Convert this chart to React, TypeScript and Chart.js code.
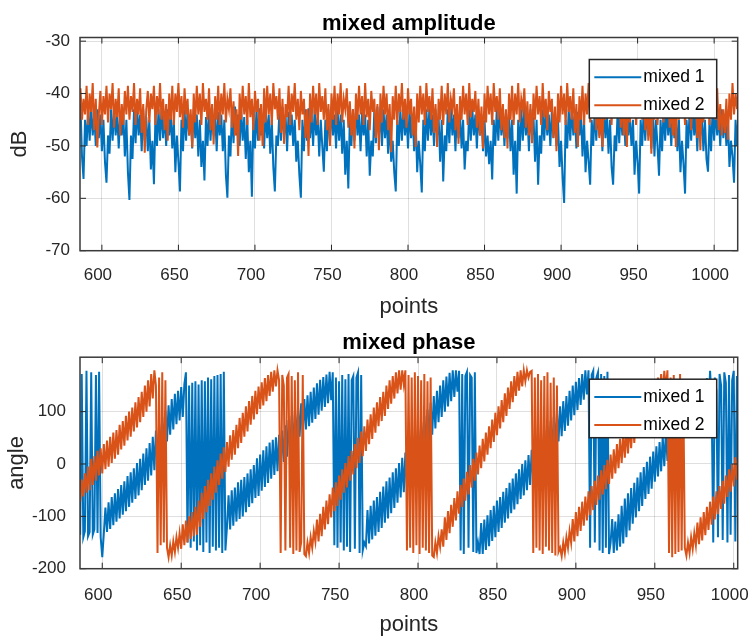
import React, { useEffect, useRef } from "react";
import { Chart, registerables } from "chart.js";

Chart.register(...registerables);

// ---------------- data ----------------
const SERIES_LABELS = ["mixed 1", "mixed 2"];
const X_TICKS = [600, 650, 700, 750, 800, 850, 900, 950, 1000];
const AMP_Y_TICKS = [-70, -60, -50, -40, -30];
const PHASE_Y_TICKS = [-200, -100, 0, 100];

const AMP_START = 586; // x of first amplitude sample
const PHASE_START = 586; // x of first phase sample

// amplitude (dB), mixed 1, x = 586 .. 1016
const AMP_MIXED1 = [
  -42, -52, -56.3, -45, -50, -43, -49, -42.5, -48, -44, // 586
  -50, -43, -48.5, -44, -51, -45, -53, -57, -48, -51.5, // 596
  -43, -49, -42.8, -48, -44, -50.5, -43.5, -48, -44, -52, // 606
  -45, -55, -60.3, -48, -52.5, -43, -49.5, -42.5, -48, -44, // 616
  -51, -43, -49, -44.5, -51, -45, -54.5, -49, -57.3, -44, // 626
  -50, -43, -49, -42.6, -48.5, -44, -50, -43, -48, -44, // 636
  -50.5, -45, -55, -48, -53, -58.7, -45, -51, -43, -49, // 646
  -42.8, -48, -44, -50.5, -43, -48.5, -44, -52, -45, -54, // 656
  -49, -56.6, -44.5, -50, -43, -49, -42.7, -48, -44, -51, // 666
  -43.5, -48, -44, -51, -45, -55.5, -59.9, -48, -52, -43, // 676
  -49.5, -42.5, -48, -44, -50, -43, -49, -44.5, -52.5, -45, // 686
  -55, -49, -59.7, -44, -50.5, -43, -49, -42.8, -48, -44, // 696
  -50.5, -43, -48.5, -44, -51.5, -45, -54, -58.7, -48, -50, // 706
  -43, -49, -42.6, -48, -44, -51, -43.5, -48, -44, -50, // 716
  -45, -53, -49, -55.5, -59.9, -45, -51, -43, -49, -42.8, // 726
  -48.5, -44, -50, -43, -48, -44.5, -52, -45, -50, -54.9, // 736
  -45, -51, -43, -49, -42.5, -48, -44, -50.5, -43, -49, // 746
  -44, -51.5, -45, -55.5, -49, -58.1, -44.5, -50, -43, -49, // 756
  -42.7, -48, -44, -51, -43.5, -48, -44, -52, -45, -55.7, // 766
  -49, -52, -43, -49.5, -42.5, -48, -44, -50, -43, -48.5, // 776
  -44, -51.5, -45, -53, -49, -55, -58.7, -45, -50, -43, // 786
  -49, -42.8, -48, -44, -50.5, -43, -48.5, -44, -51, -45, // 796
  -55, -49, -53.5, -58.9, -45, -51, -43, -49, -42.6, -48, // 806
  -44, -50, -43, -48, -44.5, -53, -45, -56.8, -48, -51, // 816
  -43, -49.5, -42.5, -48, -44, -51, -43, -48.5, -44, -50.5, // 826
  -45, -54.5, -49, -51, -43, -49, -42.8, -48, -44, -50.5, // 836
  -43, -48, -44, -51, -45, -52, -48, -53.5, -49, -56.4, // 846
  -45, -50, -43, -49, -42.7, -48, -44, -50, -43.5, -48.5, // 856
  -44, -51, -45, -55.5, -49, -59.1, -45, -51, -43, -49, // 866
  -42.5, -48, -44, -51, -43, -48, -44.5, -53, -45, -57.4, // 876
  -48, -51.5, -43, -49, -42.8, -48, -44, -50, -43, -48.5, // 886
  -44, -50, -45, -54, -49, -56, -60.9, -45, -50.5, -43, // 896
  -49, -42.6, -48, -44, -50.5, -43.5, -48, -44, -52, -45, // 906
  -55, -49, -53, -57.4, -45, -50, -43, -49, -42.5, -48, // 916
  -44, -51, -43, -48.5, -44, -51.5, -45, -54, -57.4, -48, // 926
  -51, -43, -49.5, -42.7, -48, -44, -50, -43, -48, -44.5, // 936
  -50, -45, -55.5, -49, -53, -59.1, -45, -50, -43, -49, // 946
  -42.8, -48, -44, -50.5, -43, -52, -45, -50, -55.7, -45, // 956
  -51, -43, -49, -42.6, -48, -44, -50, -43.5, -48.5, -44, // 966
  -51, -45, -55, -49, -53.5, -59.1, -45, -50.5, -43, -49, // 976
  -42.5, -48, -44, -51, -43, -48, -44.5, -51, -45, -52.5, // 986
  -54.9, -45, -51, -43, -49, -42.8, -48, -44, -50, -43, // 996
  -48.5, -44, -50, -45, -54, -49, -52, -57, -45, -50, // 1006
  -43, // 1016
];

// amplitude (dB), mixed 2, x = 586 .. 1016
const AMP_MIXED2 = [
  -39, -45, -41, -44, -38.5, -46, -40, -43.5, -38, -47, // 586
  -41, -50.3, -44, -39.5, -46, -40.5, -44, -38.5, -45.5, -40, // 596
  -43, -38, -46.5, -41, -44.5, -39, -48, -42, -46, -39.5, // 606
  -44, -38.5, -45, -40.5, -43.5, -38, -46, -41, -44, -39, // 616
  -47.5, -42, -51.3, -43, -39.5, -45.5, -40, -43, -38.5, -46, // 626
  -40.5, -44, -38, -45, -41, -47, -42, -49, -40, -45, // 636
  -38.5, -46, -40, -43.5, -38, -44.5, -40.5, -46.5, -39, -44, // 646
  -41, -48, -43, -50.3, -40, -45.5, -38.5, -44, -40, -46, // 656
  -38, -43.5, -41, -45, -39, -47, -42, -49.7, -40.5, -45, // 666
  -38.5, -46, -40, -44, -38, -45.5, -41, -43, -39, -46.5, // 676
  -41.5, -48, -43, -51.9, -40, -45, -38.5, -44, -40.5, -46, // 686
  -38, -44.5, -41, -47, -39.5, -43.5, -41, -49, -42, -50, // 696
  -39, -45.5, -38.5, -44, -40, -46, -38, -43, -40.5, -45, // 706
  -39, -47.5, -41, -49.6, -42, -44.5, -38.5, -46, -40, -43.5, // 716
  -38, -45, -41, -47, -39.5, -44, -41, -48.5, -43, -51.9, // 726
  -40, -45.5, -38.5, -44, -40, -46, -38, -43.5, -40.5, -45, // 736
  -39, -47, -42, -50, -40, -45, -38.5, -46, -40, -44, // 746
  -38, -45.5, -41, -43, -39, -46.5, -41.5, -48, -43, -50.5, // 756
  -40, -45, -38.5, -44, -40.5, -46, -38, -44.5, -41, -47, // 766
  -39.5, -43.5, -41, -48.5, -42, -50.8, -40, -45.5, -38.5, -44, // 776
  -40, -47, -42, -51.2, -40.5, -45, -38.5, -46, -40, -43.5, // 786
  -38, -45, -41, -46.5, -39, -44, -41, -48, -42.5, -50.2, // 796
  -40, -45.5, -38.5, -44, -40, -46, -38, -43.5, -40.5, -45, // 806
  -39, -47.5, -42, -50.2, -41, -45, -38.5, -46, -40, -44, // 816
  -38, -45.5, -41, -43, -39, -47, -42, -49.6, -40.5, -45, // 826
  -38.5, -44, -40, -46, -38, -44.5, -41, -43.5, -39.5, -46.5, // 836
  -41, -48, -42.5, -50.5, -40, -45.5, -38.5, -44, -40, -46, // 846
  -38, -43.5, -40.5, -45, -39, -47, -42, -48.5, -43, -50.5, // 856
  -40, -45, -38.5, -46, -40, -44, -38, -45.5, -41, -43, // 866
  -39, -46.5, -41.5, -48, -42, -49.5, -40, -45, -38.5, -44, // 876
  -40.5, -46, -38, -44.5, -41, -47, -39.5, -43.5, -41, -48.5, // 886
  -42.5, -51, -40, -45.5, -38.5, -44, -40, -46, -38, -43.5, // 896
  -40.5, -45, -39, -47.5, -42, -50.2, -40.5, -45, -38.5, -46, // 906
  -40, -44, -38, -45.5, -41, -43, -39, -47, -42, -48.5, // 916
  -43, -50.2, -40, -45, -38.5, -44, -40, -46, -38, -44.5, // 926
  -41, -43.5, -39.5, -46.5, -41, -48, -42.5, -50.2, -40, -45.5, // 936
  -38.5, -44, -40.5, -46, -38, -43.5, -40.5, -45, -39, -47, // 946
  -42, -49, -43, -51.5, -40, -45, -38.5, -46, -40, -44, // 956
  -38, -45.5, -41, -43, -39, -46.5, -41.5, -48, -42, -50.2, // 966
  -40, -45, -38.5, -44, -40.5, -46, -38, -44.5, -41, -47, // 976
  -39.5, -43.5, -41, -48.5, -42.5, -50.8, -40, -45.5, -38.5, -44, // 986
  -40, -46, -38, -43.5, -40.5, -45, -39, -47, -42, -48, // 996
  -43, -47.5, -41, -48.8, -40, -45, -38, -44, -40, -43, // 1006
  -39, // 1016
];

// phase (degrees), mixed 1, x = 586 .. 1002
const PHASE_MIXED1 = [
  -135, 172, -140, -128, 178, -138, -130, 175, -135, -125, // 586
  170, -132, 176, -140, -178, -132, -83, -130, -73, -124, // 596
  -63, -117, -56, -110, -48, -104, -40, -97, -33, -90, // 606
  -23, -82, -16, -74, -8, -67, 2, -60, 10, -50, // 616
  20, -40, 30, -32, 40, -22, 52, -12, 64, 0, // 626
  77, 13, 90, 28, 102, 43, 112, 56, 124, 66, // 636
  134, 76, 140, 83, 147, 90, 152, 175, -150, 150, // 646
  -160, 155, -148, 158, -165, 152, -155, 160, -168, 158, // 656
  -150, 165, -170, 162, -158, 168, -165, 170, -160, 172, // 666
  -170, 176, -165, -120, -60, -125, -50, -118, -45, -110, // 676
  -35, -105, -30, -100, -25, -92, -18, -82, -10, -75, // 686
  -2, -65, 11, -61, 18, -51, 26, -44, 34, -36, // 696
  41, -28, 46, -21, 51, -14, 56, -6, 64, 4, // 706
  74, 14, 84, 24, 92, 34, 101, 44, 108, 52, // 716
  116, 59, 124, 66, 131, 72, 138, 79, 146, 86, // 726
  154, 94, 161, 102, 166, 109, 171, 116, 176, 122, // 736
  175, -155, 165, -160, 158, -150, 170, -165, 162, -158, // 746
  172, -168, 160, 168, -162, 165, 175, -170, 170, -165, // 756
  -150, -157, -88, -152, -80, -144, -70, -137, -63, -130, // 766
  -53, -122, -43, -112, -33, -104, -26, -94, -16, -84, // 776
  -8, -74, 2, -64, 12, -54, 22, -44, 32, -34, // 786
  42, -22, 54, -10, 67, 3, 80, 16, 92, 30, // 796
  104, 43, 117, 56, 130, 68, 140, 80, 150, 90, // 806
  160, 100, 167, 110, 174, 120, 179, 128, 179, 138, // 816
  178, -165, 172, -172, 168, 176, -160, 170, 165, -168, // 826
  175, -170, -150, -172, -113, -172, -106, -164, -98, -157, // 836
  -88, -147, -80, -140, -70, -130, -63, -122, -53, -112, // 846
  -46, -104, -36, -94, -28, -87, -18, -77, -10, -67, // 856
  0, -60, 7, -50, 17, -40, 27, -32, 37, -22, // 866
  47, -12, 54, -2, 64, 6, 72, 16, 82, 26, // 876
  90, 36, 100, 43, 110, 53, 120, 63, 130, 73, // 886
  140, 83, 150, 93, 157, 103, 164, 113, 172, 123, // 896
  179, 133, 179, -160, 170, 178, -150, 165, 175, -165, // 906
  172, -170, 168, -160, 176, -172, -150, -105, -170, -110, // 916
  -165, -96, -158, -80, -152, -66, -140, -56, -127, -46, // 926
  -114, -36, -102, -26, -90, -16, -80, -6, -67, 4, // 936
  -57, 14, -47, 24, -34, 34, -24, 42, -14, 52, // 946
  -4, 62, 6, 70, 16, 80, 26, 88, 33, 97, // 956
  40, 104, 48, 112, 54, 120, 60, 127, 68, 134, // 966
  74, 142, 80, 150, 88, 157, 96, 164, 103, 178, // 976
  120, -150, 165, 140, -140, 172, 150, -145, 175, 155, // 986
  -150, 170, -135, 160, 178, -148, 168, // 996
];

// phase (degrees), mixed 2, x = 586 .. 1002
const PHASE_MIXED2 = [
  -72, -30, -62, -18, -55, -5, -50, 10, -40, 15, // 586
  -32, 25, -22, 30, -18, 38, -10, 45, -5, 52, // 596
  2, 60, 10, 65, 18, 75, 28, 82, 35, 92, // 606
  45, 100, 52, 108, 62, 118, 70, 128, 80, 138, // 616
  90, 150, 100, 160, 110, 172, 125, 179, 150, -170, // 626
  165, -155, 175, -150, 160, -160, -178, -155, -175, -148, // 636
  -168, -140, -160, -132, -162, -115, -155, -108, -150, -100, // 646
  -143, -92, -138, -82, -135, -70, -120, -55, -105, -42, // 656
  -92, -30, -80, -18, -68, -5, -55, 7, -40, 20, // 666
  -28, 32, -15, 42, -5, 55, 8, 65, 18, 75, // 676
  30, 88, 40, 98, 52, 110, 62, 120, 75, 130, // 686
  85, 140, 95, 148, 105, 156, 112, 164, 120, 170, // 696
  130, 176, 138, 179, 148, 179, 160, -170, 170, 150, // 706
  -165, 165, 172, -160, 168, -172, 160, -165, 175, -168, // 716
  -150, 170, -172, -176, -150, -170, -140, -160, -128, -148, // 726
  -106, -148, -95, -138, -82, -125, -70, -115, -58, -102, // 736
  -45, -90, -35, -80, -22, -68, -10, -55, 2, -45, // 746
  15, -32, 25, -20, 38, -8, 50, 2, 62, 15, // 756
  72, 25, 85, 38, 95, 48, 108, 60, 118, 72, // 766
  128, 82, 138, 92, 150, 105, 160, 115, 168, 125, // 776
  175, 135, 179, 142, 179, 152, 179, -165, 170, -160, // 786
  165, -170, 175, -155, 168, -172, 160, -160, 172, -165, // 796
  158, -170, 165, -175, -178, -150, -170, -138, -158, -125, // 806
  -158, -102, -145, -90, -132, -78, -120, -65, -108, -52, // 816
  -95, -40, -82, -28, -70, -15, -58, -2, -45, 10, // 826
  -32, 22, -20, 35, -8, 48, 5, 60, 18, 72, // 836
  30, 85, 42, 98, 55, 110, 68, 122, 80, 135, // 846
  92, 146, 105, 158, 118, 168, 130, 176, 140, 179, // 856
  148, 179, 158, 179, 165, 176, 178, -170, 165, -160, // 866
  172, -165, 160, -172, 168, -158, 175, -165, 155, -170, // 876
  165, -175, 150, -168, -160, -176, -150, -170, -140, -160, // 886
  -128, -150, -105, -148, -92, -138, -82, -128, -72, -118, // 896
  -62, -108, -52, -98, -42, -88, -32, -78, -22, -68, // 906
  -12, -58, -2, -48, 8, -38, 18, -28, 28, -18, // 916
  38, -8, 48, 2, 58, 12, 68, 20, 76, 30, // 926
  85, 40, 95, 50, 105, 60, 115, 70, 125, 80, // 936
  135, 90, 145, 102, 155, 112, 165, 122, 172, 132, // 946
  178, 142, 179, -170, 165, -178, 170, -172, 160, -168, // 956
  172, -165, 155, -160, -175, -150, -170, -140, -162, -132, // 966
  -155, -112, -153, -102, -146, -92, -136, -82, -126, -72, // 976
  -116, -62, -106, -52, -96, -42, -86, -32, -76, -22, // 986
  -63, -10, -53, 0, -43, 13, -30, // 996
];

// ---------------- styling / layout ----------------
const FONT = '"Liberation Sans", Arial, Helvetica, sans-serif';
const BLUE = "#0072BD";
const ORANGE = "#D95319";
const AXIS_COLOR = "#262626";
const GRID_COLOR = "rgba(38,38,38,0.15)";
const LINE_W = 2;

const W = 752;
const PANEL_H = 321;
const AREA_LEFT = 80;
const AREA_RIGHT = 737.7;

type Panel = {
  title: string;
  xLabel: string;
  yLabel: string;
  start: number;
  s1: number[];
  s2: number[];
  xMin: number;
  xMax: number;
  yMin: number;
  yMax: number;
  yTicks: number[];
  areaTop: number;
  areaBottom: number;
  yTickPad: number;
  xTickPad: number;
  yTitlePad: number;
  xTitlePad: number;
};

const AMP_PANEL: Panel = {
  title: "mixed amplitude",
  xLabel: "points",
  yLabel: "dB",
  start: AMP_START,
  s1: AMP_MIXED1,
  s2: AMP_MIXED2,
  xMin: 585.7,
  xMax: 1015.4,
  yMin: -70,
  yMax: -29.3,
  yTicks: AMP_Y_TICKS,
  areaTop: 37.5,
  areaBottom: 250.7,
  yTickPad: 10,
  xTickPad: 14,
  yTitlePad: 7,
  xTitlePad: 1,
};

const PHASE_PANEL: Panel = {
  title: "mixed phase",
  xLabel: "points",
  yLabel: "angle",
  start: PHASE_START,
  s1: PHASE_MIXED1,
  s2: PHASE_MIXED2,
  xMin: 585.9,
  xMax: 1002.5,
  yMin: -200,
  yMax: 204,
  yTicks: PHASE_Y_TICKS,
  areaTop: 36.2,
  areaBottom: 247.7,
  yTickPad: 14,
  xTickPad: 16,
  yTitlePad: 3.5,
  xTitlePad: 3.5,
};

const framePlugin = {
  id: "matlabFrame",
  afterDatasetsDraw(chart: any, _args: any, opts: any) {
    const { ctx, chartArea } = chart;
    const { left, right, top, bottom } = chartArea;
    const xs = chart.scales.x;
    const ys = chart.scales.y;
    ctx.save();
    // inward tick marks on all four sides
    ctx.strokeStyle = AXIS_COLOR;
    ctx.lineWidth = 1;
    ctx.beginPath();
    const tl = 6;
    xs.ticks.forEach((t: any) => {
      const p = xs.getPixelForValue(t.value);
      ctx.moveTo(p, bottom);
      ctx.lineTo(p, bottom - tl);
      ctx.moveTo(p, top);
      ctx.lineTo(p, top + tl);
    });
    ys.ticks.forEach((t: any) => {
      const p = ys.getPixelForValue(t.value);
      ctx.moveTo(left, p);
      ctx.lineTo(left + tl, p);
      ctx.moveTo(right, p);
      ctx.lineTo(right - tl, p);
    });
    ctx.stroke();
    // box
    ctx.lineWidth = 1.5;
    ctx.strokeStyle = "#3a3a3a";
    ctx.strokeRect(left, top, right - left, bottom - top);

    // title
    ctx.fillStyle = "#000";
    ctx.font = `bold 22px ${FONT}`;
    ctx.textAlign = "center";
    ctx.textBaseline = "middle";
    ctx.fillText(opts.title, (left + right) / 2, top - 14);

    // legend (top-right, inside axes)
    const bx1 = right - 21;
    const bx0 = bx1 - 127.4;
    const by0 = top + 22;
    const bh = 58.5;
    ctx.fillStyle = "#fff";
    ctx.fillRect(bx0, by0, bx1 - bx0, bh);
    ctx.strokeStyle = AXIS_COLOR;
    ctx.lineWidth = 1.5;
    ctx.strokeRect(bx0, by0, bx1 - bx0, bh);
    const rows = [by0 + 17.7, by0 + 45.7];
    chart.data.datasets.forEach((ds: any, i: number) => {
      const y = rows[i];
      ctx.strokeStyle = ds.borderColor;
      ctx.lineWidth = 2;
      ctx.beginPath();
      ctx.moveTo(bx0 + 5, y);
      ctx.lineTo(bx0 + 52, y);
      ctx.stroke();
      ctx.fillStyle = "#000";
      ctx.font = `17.5px ${FONT}`;
      ctx.textAlign = "left";
      ctx.textBaseline = "middle";
      ctx.fillText(ds.label, bx0 + 54, y);
    });
    ctx.restore();
  },
};

function PanelChart({ panel, top }: { panel: Panel; top: number }) {
  const ref = useRef<HTMLCanvasElement>(null);
  useEffect(() => {
    const canvas = ref.current;
    if (!canvas) return;
    const toPts = (arr: number[]) => arr.map((y, i) => ({ x: panel.start + i, y }));
    const tickFont = { family: FONT, size: 17 };
    const labelFont = { family: FONT, size: 22 };
    const chart = new Chart(canvas, {
      type: "line",
      data: {
        datasets: [
          {
            label: SERIES_LABELS[0],
            data: toPts(panel.s1),
            borderColor: BLUE,
            backgroundColor: BLUE,
            borderWidth: LINE_W,
            pointRadius: 0,
            tension: 0,
            fill: false,
            order: 2,
          },
          {
            label: SERIES_LABELS[1],
            data: toPts(panel.s2),
            borderColor: ORANGE,
            backgroundColor: ORANGE,
            borderWidth: LINE_W,
            pointRadius: 0,
            tension: 0,
            fill: false,
            order: 1,
          },
        ],
      },
      options: {
        animation: false,
        responsive: false,
        devicePixelRatio: 1,
        events: [],
        layout: {
          padding: { left: 0, right: W - AREA_RIGHT, top: panel.areaTop, bottom: 0 },
        },
        plugins: {
          legend: { display: false },
          title: { display: false },
          tooltip: { enabled: false },
          matlabFrame: { title: panel.title },
        } as any,
        scales: {
          x: {
            type: "linear",
            min: panel.xMin,
            max: panel.xMax,
            afterBuildTicks: (s: any) => {
              s.ticks = X_TICKS.map((v) => ({ value: v }));
            },
            afterFit: (s: any) => {
              s.height = PANEL_H - panel.areaBottom;
              s.paddingLeft = 0;
              s.paddingRight = 0;
            },
            grid: { color: GRID_COLOR, lineWidth: 1, drawTicks: false },
            border: { display: false },
            ticks: {
              font: tickFont,
              color: AXIS_COLOR,
              padding: panel.xTickPad,
              labelOffset: -4,
              autoSkip: false,
              maxRotation: 0,
              callback: (v: any) => String(v),
            },
            title: {
              display: true,
              text: panel.xLabel,
              font: labelFont,
              color: AXIS_COLOR,
              padding: { top: 0, bottom: panel.xTitlePad },
            },
          },
          y: {
            type: "linear",
            min: panel.yMin,
            max: panel.yMax,
            afterBuildTicks: (s: any) => {
              s.ticks = panel.yTicks.map((v) => ({ value: v }));
            },
            afterFit: (s: any) => {
              s.width = AREA_LEFT;
              s.paddingTop = 0;
              s.paddingBottom = 0;
            },
            grid: { color: GRID_COLOR, lineWidth: 1, drawTicks: false },
            border: { display: false },
            ticks: {
              font: tickFont,
              color: AXIS_COLOR,
              padding: panel.yTickPad,
              autoSkip: false,
              callback: (v: any) => String(v),
            },
            title: {
              display: true,
              text: panel.yLabel,
              font: labelFont,
              color: AXIS_COLOR,
              padding: { top: panel.yTitlePad, bottom: 0 },
            },
          },
        },
      } as any,
      plugins: [framePlugin],
    });
    return () => chart.destroy();
  }, [panel]);
  return (
    <canvas
      ref={ref}
      width={W}
      height={PANEL_H}
      style={{ position: "absolute", left: 0, top, width: W, height: PANEL_H, display: "block" }}
    />
  );
}

export default function App() {
  return (
    <div
      style={{
        position: "absolute",
        left: 0,
        top: 0,
        width: W,
        height: 642,
        background: "#fff",
        overflow: "hidden",
      }}
    >
      <PanelChart panel={AMP_PANEL} top={0} />
      <PanelChart panel={PHASE_PANEL} top={PANEL_H} />
    </div>
  );
}
